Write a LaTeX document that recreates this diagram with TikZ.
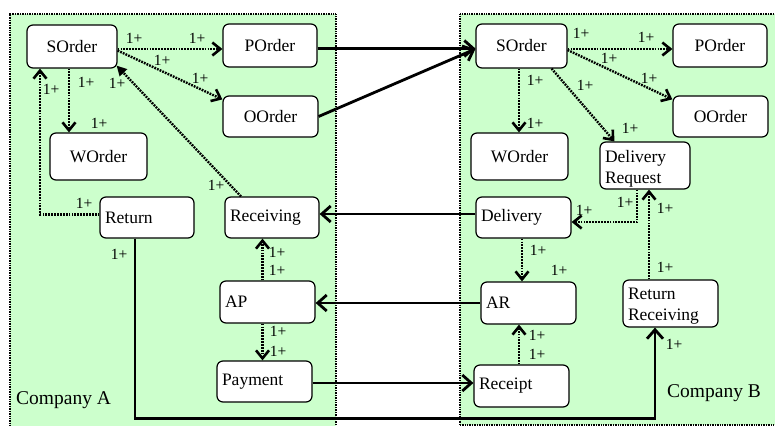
\documentclass[tikz,border=0pt]{standalone}
\usepackage{fontspec}
\setmainfont{Liberation Serif}
\usetikzlibrary{arrows.meta}
\definecolor{compgreen}{HTML}{CCFFCC}
\begin{document}
\begin{tikzpicture}[x=1pt,y=-1pt,
  compbox/.style={draw=black, fill=compgreen, line width=2pt, dash pattern=on 1pt off 0.7pt, inner sep=0pt, anchor=north west},
  boxc/.style={draw, fill=white, rounded corners=6pt, line width=1.2pt, inner sep=0pt, align=center, font=\fontsize{17.5}{21}\selectfont},
  boxl/.style={draw, fill=white, rounded corners=6pt, line width=1.2pt, inner xsep=5pt, inner ysep=1pt, align=left, font=\fontsize{17.5}{21}\selectfont},
  lbl/.style={inner sep=0pt, font=\fontsize{15.5}{15}\selectfont},
  complbl/.style={inner sep=0pt, anchor=west, font=\fontsize{19.5}{20}\selectfont},
  dotarrow/.style={line width=2.4pt, dash pattern=on 1.8pt off 1.1pt, -{Straight Barb[length=8pt,width=13pt,line width=2.6pt]}},
  dotfilled/.style={line width=2.4pt, dash pattern=on 1.8pt off 1.1pt, -{Triangle[length=10pt,width=10pt]}},
  thickarrow/.style={line width=2.8pt, -{Straight Barb[length=9pt,width=16pt,line width=2.8pt]}}
]
\useasboundingbox (0,0) rectangle (775,425);
\clip (0,0) rectangle (775,425);

% company containers
\node[compbox, minimum width=326pt, minimum height=430pt] (CA) at (9,13) {};
\node[compbox, minimum width=340pt, minimum height=411pt] (CB) at (459,13) {};
\node[complbl] (CAlabel) at (16,400) {Company A};
\node[complbl] (CBlabel) at (667,393) {Company B};

% Company A nodes
\node[boxc, minimum width=90pt, minimum height=43pt] (SA) at (72,46.5) {SOrder};
\node[boxc, minimum width=94pt, minimum height=43pt] (PA) at (270,45.5) {POrder};
\node[boxc, minimum width=95pt, minimum height=41pt] (OA) at (270.5,116.5) {OOrder};
\node[boxc, minimum width=97pt, minimum height=47pt] (WA) at (98.5,156.5) {WOrder};
\node[boxl, text width=84pt, minimum height=41pt] (RetA) at (147,217.5) {Return};
\node[boxl, text width=84pt, minimum height=41pt] (RecvA) at (272,217.5) {Receiving};
\node[boxl, text width=85pt, minimum height=42pt] (APA) at (267.5,302) {AP};
\node[boxl, text width=85pt, minimum height=41pt] (PayA) at (264.5,381.5) {Payment};

% Company B nodes
\node[boxc, minimum width=91pt, minimum height=44pt] (SB) at (521.5,46) {SOrder};
\node[boxc, minimum width=94pt, minimum height=43pt] (PB) at (720,45.5) {POrder};
\node[boxc, minimum width=95pt, minimum height=41pt] (OB) at (720.5,116.5) {OOrder};
\node[boxc, minimum width=97pt, minimum height=47pt] (WB) at (519.5,156.5) {WOrder};
\node[boxl, text width=80pt, minimum height=47pt] (DRB) at (645,165.5) {\rule{0pt}{18pt}Delivery\\Request};
\node[boxl, text width=85pt, minimum height=41pt] (DB) at (523.5,217.5) {Delivery};
\node[boxl, text width=85pt, minimum height=42pt] (ARB) at (528.5,303) {AR};
\node[boxl, text width=85pt, minimum height=47pt] (RRB) at (670.5,303.5) {\rule{0pt}{16pt}Return\\Receiving};
\node[boxl, text width=85pt, minimum height=42pt] (RcB) at (521.5,386) {Receipt};

% Company A dotted connectors
\draw[dotarrow] ([yshift=-2.5pt]SA.east) -- ([yshift=-2.5pt]SA.east -| PA.west);
\draw[dotarrow] ([yshift=-4pt]SA.east) -- ([yshift=-4pt]OA.north west);
\draw[dotarrow] ([xshift=-3pt]SA.south) -- ([xshift=-3pt]SA.south |- WA.north);
\draw[dotfilled] ([xshift=-31pt]RecvA.north) -- ([shift={(-1pt,3pt)}]SA.south east);
\draw[dotarrow] ([yshift=3pt]RetA.west) -| ([xshift=-32pt]SA.south);
\draw[dotarrow] ([xshift=-5pt]APA.north) -- ([xshift=-5pt]APA.north |- RecvA.south);
\draw[dotarrow] ([xshift=-5pt]APA.south) -- ([xshift=-5pt]APA.south |- PayA.north);

% Company B dotted connectors
\draw[dotarrow] ([yshift=-3pt]SB.east) -- ([yshift=-3pt]SB.east -| PB.west);
\draw[dotarrow] ([yshift=-4pt]SB.east) -- ([yshift=-4pt]OB.north west);
\draw[dotarrow] ([xshift=-2.5pt]SB.south) -- ([xshift=-2.5pt]SB.south |- WB.north);
\draw[dotarrow] ([xshift=-16pt]SB.south east) -- ([xshift=15pt]DRB.north west);
\draw[dotarrow] ([xshift=-8pt]DRB.south) |- ([yshift=-4.5pt]DB.east);
\draw[dotarrow] ([xshift=-21.5pt]RRB.north) -- ([xshift=-21.5pt]RRB.north |- DRB.south);
\draw[dotarrow] ([xshift=-1.5pt]DB.south) -- ([xshift=-1.5pt]DB.south |- ARB.north);
\draw[dotarrow] ([xshift=-2.5pt]RcB.north) -- ([xshift=-2.5pt]RcB.north |- ARB.south);

% thick connectors between companies
\draw[thickarrow] ([yshift=-3pt]PA.east) -- ([yshift=-3pt]PA.east -| SB.west);
\draw[thickarrow] (OA.east) -- ([yshift=-3pt]SB.west);
\draw[thickarrow] ([yshift=3.5pt]DB.west) -- ([yshift=3.5pt]DB.west -| RecvA.east);
\draw[thickarrow] (ARB.west) -- (ARB.west -| APA.east);
\draw[thickarrow] ([yshift=-1.5pt]PayA.east) -- ([yshift=-1.5pt]PayA.east -| RcB.west);
\draw[thickarrow] ([xshift=-12pt]RetA.south) -- ++(0,180) -| ([xshift=-15.5pt]RRB.south);

% multiplicity labels, Company A
\node[lbl] (la1) at (134,38) {1+};
\node[lbl] (la2) at (197,38) {1+};
\node[lbl] (la3) at (162,60) {1+};
\node[lbl] (la4) at (200,78) {1+};
\node[lbl] (la5) at (51,89) {1+};
\node[lbl] (la6) at (86,82) {1+};
\node[lbl] (la7) at (117,83) {1+};
\node[lbl] (la8) at (99,123) {1+};
\node[lbl] (la9) at (216,185) {1+};
\node[lbl] (la10) at (84,203) {1+};
\node[lbl] (la11) at (119,254) {1+};
\node[lbl] (la12) at (277,252) {1+};
\node[lbl] (la13) at (277,270) {1+};
\node[lbl] (la14) at (278,331) {1+};
\node[lbl] (la15) at (278,351) {1+};

% multiplicity labels, Company B
\node[lbl] (lb1) at (581,33) {1+};
\node[lbl] (lb2) at (646,37) {1+};
\node[lbl] (lb3) at (609,58) {1+};
\node[lbl] (lb4) at (649,78) {1+};
\node[lbl] (lb5) at (535,80) {1+};
\node[lbl] (lb6) at (585,85) {1+};
\node[lbl] (lb7) at (535,123) {1+};
\node[lbl] (lb8) at (630,128) {1+};
\node[lbl] (lb9) at (625,202) {1+};
\node[lbl] (lb10) at (665,208) {1+};
\node[lbl] (lb11) at (584,210) {1+};
\node[lbl] (lb12) at (538,250) {1+};
\node[lbl] (lb13) at (559,270) {1+};
\node[lbl] (lb14) at (665,267) {1+};
\node[lbl] (lb15) at (537,335) {1+};
\node[lbl] (lb16) at (537,354) {1+};
\node[lbl] (lb17) at (674,344) {1+};
\end{tikzpicture}
\end{document}
